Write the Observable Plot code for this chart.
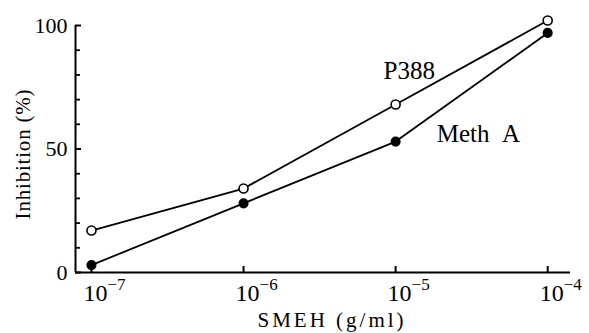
<!DOCTYPE html>
<html><head><meta charset="utf-8">
<script src="https://cdn.jsdelivr.net/npm/d3@7"></script>
<script src="https://cdn.jsdelivr.net/npm/@observablehq/plot@0.6"></script>
<style>body{margin:0;background:#fff}</style>
</head><body><div id="chart"></div>
<script>
const concentrations = [1e-7, 1e-6, 1e-5, 1e-4];
const p388 = [17, 34, 68, 102];
const methA = [3, 28, 53, 97];
const yTicks = [0, 50, 100];
const yMinorTicks = [10, 20, 30, 40, 60, 70, 80, 90];
const xTicks = [1e-7, 1e-6, 1e-5, 1e-4];
const xTickExponents = ["−7", "−6", "−5", "−4"];
const seriesLabels = [
  {text: "P388", x: 1.23e-5, y: 81.4},
  {text: "Meth\u2002A", x: 3.5e-5, y: 55.9}
];
const xLabel = "SMEH (g/ml)";
const yLabel = "Inhibition (%)";

const xDomain = [Math.pow(10, -7.105), Math.pow(10, -3.85)];
const p388Data = concentrations.map((c, i) => ({c, v: p388[i]}));
const methData = concentrations.map((c, i) => ({c, v: methA[i]}));
const font = "'Liberation Serif', 'Times New Roman', serif";

const chart = Plot.plot({
  width: 589, height: 333,
  marginLeft: 75, marginRight: 19, marginTop: 25, marginBottom: 61,
  style: {fontFamily: font, background: "#fff", color: "#000", overflow: "visible"},
  x: {type: "log", domain: xDomain},
  y: {domain: [0, 100]},
  marks: [
    Plot.ruleX([xDomain[0]], {strokeWidth: 2}),
    Plot.ruleY([0], {strokeWidth: 2}),
    // inward tick marks (drawn outward, then shifted inside the frame)
    Plot.axisY({ticks: yTicks, tickSize: 6, dx: 6, tickFormat: () => "", label: null, strokeWidth: 2}),
    Plot.axisY({ticks: yMinorTicks, tickSize: 5, dx: 5, tickFormat: () => "", label: null, strokeWidth: 1.8}),
    Plot.axisX({ticks: xTicks, tickSize: 6, dy: -6, tickFormat: () => "", label: null, strokeWidth: 2}),
    // tick labels
    Plot.axisY({ticks: yTicks, tickSize: 0, tickPadding: 8, fontSize: 22, label: null}),
    Plot.axisX({ticks: xTicks, tickSize: 0, tickPadding: 11, fontSize: 24, label: null,
      tickFormat: d => "10|" + xTickExponents[xTicks.findIndex(t => Math.abs(t - d) < d * 1e-6)]}),
    Plot.line(p388Data, {x: "c", y: "v", stroke: "black", strokeWidth: 1.8}),
    Plot.line(methData, {x: "c", y: "v", stroke: "black", strokeWidth: 1.8}),
    Plot.dot(p388Data, {x: "c", y: "v", r: 4.5, fill: "white", stroke: "black", strokeWidth: 1.6}),
    Plot.dot(methData, {x: "c", y: "v", r: 4.3, fill: "black", stroke: "black"}),
    Plot.text(seriesLabels, {x: "x", y: "y", text: "text", fontSize: 25, textAnchor: "middle", fill: "black"}),
    Plot.text([xLabel], {frameAnchor: "bottom", textAnchor: "middle", dx: 9, dy: 54, fontSize: 21, fill: "black"}),
    Plot.text([yLabel], {frameAnchor: "left", textAnchor: "middle", rotate: -90, dx: -52, dy: 5, fontSize: 21, fill: "black"})
  ]
});
document.getElementById("chart").appendChild(chart);

// Render tick exponents as superscripts
d3.select(chart).selectAll('g[aria-label="x-axis tick label"] text').each(function() {
  const t = d3.select(this);
  const s = t.text();
  if (!s.includes("|")) return;
  const [base, exp] = s.split("|");
  t.text(null).attr("text-anchor", "start").attr("dx", -8);
  t.append("tspan").text(base);
  t.append("tspan").attr("dy", "-0.6em").attr("font-size", 17).text(exp);
});
d3.select(chart).selectAll('g[aria-label="text"] text').filter(function(){ return d3.select(this).text() === xLabel; }).style("letter-spacing", "3px");
d3.select(chart).selectAll('g[aria-label="text"] text').filter(function(){ return d3.select(this).text() === yLabel; }).style("letter-spacing", "0.8px");
</script>
</body></html>
